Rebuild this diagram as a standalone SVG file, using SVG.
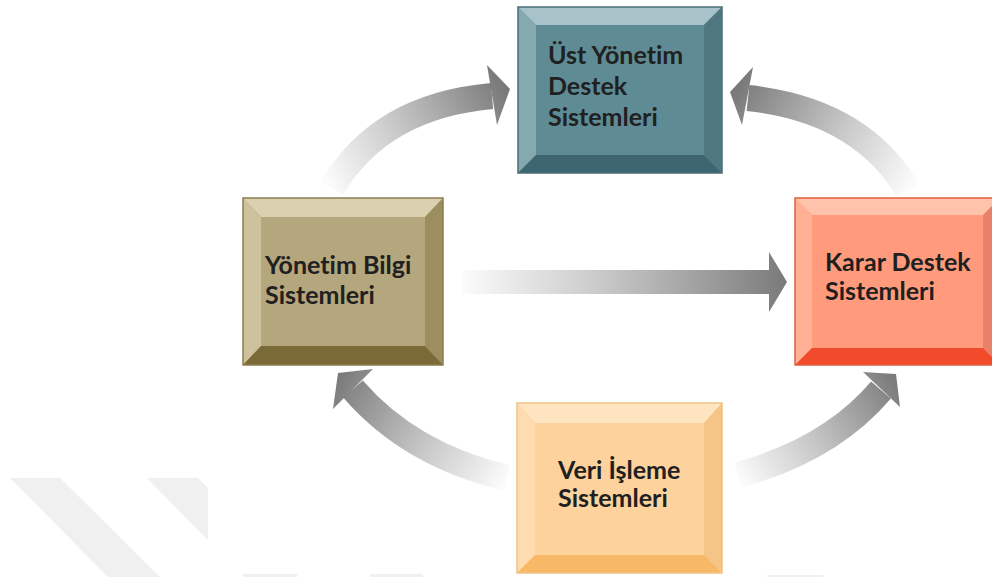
<svg xmlns="http://www.w3.org/2000/svg" width="992" height="577" viewBox="0 0 992 577">
<style>
.t{font-family:Lato,"Open Sans","DejaVu Sans",sans-serif;font-weight:bold;font-size:25px;fill:#202020;font-variant-ligatures:none}
.wm{fill:#f0f0f0}
</style>
<defs>
<linearGradient id="g1" gradientUnits="userSpaceOnUse" x1="332" y1="188" x2="505" y2="92"><stop offset="0" stop-color="#808080" stop-opacity="0.03"/><stop offset="0.4" stop-color="#808080" stop-opacity="0.4"/><stop offset="1" stop-color="#7a7a7a"/></linearGradient>
<linearGradient id="g2" gradientUnits="userSpaceOnUse" x1="908" y1="190" x2="735" y2="95"><stop offset="0" stop-color="#808080" stop-opacity="0.03"/><stop offset="0.4" stop-color="#808080" stop-opacity="0.4"/><stop offset="1" stop-color="#7a7a7a"/></linearGradient>
<linearGradient id="g3" gradientUnits="userSpaceOnUse" x1="507" y1="478" x2="340" y2="375"><stop offset="0" stop-color="#808080" stop-opacity="0.03"/><stop offset="0.4" stop-color="#808080" stop-opacity="0.4"/><stop offset="1" stop-color="#7a7a7a"/></linearGradient>
<linearGradient id="g4" gradientUnits="userSpaceOnUse" x1="738" y1="475" x2="893" y2="376"><stop offset="0" stop-color="#808080" stop-opacity="0.03"/><stop offset="0.4" stop-color="#808080" stop-opacity="0.4"/><stop offset="1" stop-color="#7a7a7a"/></linearGradient>
<linearGradient id="g5" gradientUnits="userSpaceOnUse" x1="463" y1="0" x2="787" y2="0"><stop offset="0" stop-color="#808080" stop-opacity="0.03"/><stop offset="0.4" stop-color="#808080" stop-opacity="0.4"/><stop offset="1" stop-color="#7a7a7a"/></linearGradient>
</defs>
<rect width="992" height="577" fill="#ffffff"/>
<g id="watermark">
<polygon class="wm" points="10,478 60,478 160,577 108,577"/>
<polygon class="wm" points="147,478 198,478 208,488 208,540"/>
<rect class="wm" x="243" y="574" width="54" height="3"/>
<rect class="wm" x="370" y="574" width="53" height="3"/>
<rect class="wm" x="767" y="575" width="56" height="2"/>
</g>
<g id="connectors">
<path d="M332 188 Q380 106 492 96" fill="none" stroke="url(#g1)" stroke-width="26"/>
<polygon points="487,65 510,89 497,125" fill="url(#g1)"/>
<path d="M908 190 Q860 110 748 98" fill="none" stroke="url(#g2)" stroke-width="26"/>
<polygon points="753,67 730,92 742,125" fill="url(#g2)"/>
<path d="M507 478 Q410 455 353 389" fill="none" stroke="url(#g3)" stroke-width="26"/>
<polygon points="373,369 338,373 333,409" fill="url(#g3)"/>
<path d="M738 475 Q830 450 881 390" fill="none" stroke="url(#g4)" stroke-width="26"/>
<polygon points="863,372 896,374 900,407" fill="url(#g4)"/>
<path d="M463 270 H769 V252 L787 282 L769 312 V294 H463 Z" fill="url(#g5)"/>
</g>
<g id="ust-yonetim">
<rect x="518" y="7" width="204" height="166" fill="#5f8b94"/>
<polygon points="518,7 722,7 704,25 536,25" fill="#a8c4ca"/>
<polygon points="518,7 536,25 536,155 518,173" fill="#86a9b0"/>
<polygon points="722,7 722,173 704,155 704,25" fill="#4e7780"/>
<polygon points="518,173 536,155 704,155 722,173" fill="#3d6670"/>
<rect x="518" y="7" width="204" height="166" fill="none" stroke="#4a6e76" stroke-width="1.5"/>
<text class="t" x="548" y="64">Üst Yönetim</text>
<text class="t" x="548" y="95">Destek</text>
<text class="t" x="548" y="126">Sistemleri</text>
</g>
<g id="yonetim-bilgi">
<rect x="243" y="198" width="200" height="167" fill="#b4a67d"/>
<polygon points="243,198 443,198 425,217 261,217" fill="#dad1b0"/>
<polygon points="243,198 261,217 261,346 243,365" fill="#cdc29c"/>
<polygon points="443,198 443,365 425,346 425,217" fill="#9d8e5f"/>
<polygon points="243,365 261,346 425,346 443,365" fill="#7a6a38"/>
<rect x="243" y="198" width="200" height="167" fill="none" stroke="#8c7d4e" stroke-width="1.5"/>
<text class="t" x="265" y="274">Yönetim Bilgi</text>
<text class="t" x="265" y="304">Sistemleri</text>
</g>
<g id="karar-destek">
<rect x="795" y="198" width="205" height="167" fill="#ff9b7c"/>
<polygon points="795,198 1000,198 983,215 812,215" fill="#ffc2aa"/>
<polygon points="795,198 812,215 812,348 795,365" fill="#ffb095"/>
<polygon points="1000,198 1000,365 983,348 983,215" fill="#e8806a"/>
<polygon points="795,365 812,348 983,348 1000,365" fill="#f24b2b"/>
<rect x="795" y="198" width="205" height="167" fill="none" stroke="#e06040" stroke-width="1.5"/>
<text class="t" x="825" y="271">Karar Destek</text>
<text class="t" x="825" y="300">Sistemleri</text>
</g>
<g id="veri-isleme">
<rect x="517" y="403" width="205" height="170" fill="#fdd29c"/>
<polygon points="517,403 722,403 704,423 535,423" fill="#ffe4c2"/>
<polygon points="517,403 535,423 535,555 517,573" fill="#ffdcb0"/>
<polygon points="722,403 722,573 704,555 704,423" fill="#f5c487"/>
<polygon points="517,573 535,555 704,555 722,573" fill="#f7b968"/>
<rect x="517" y="403" width="205" height="170" fill="none" stroke="#f0c285" stroke-width="1.5"/>
<text class="t" x="558" y="479">Veri İşleme</text>
<text class="t" x="558" y="507">Sistemleri</text>
</g>
</svg>
